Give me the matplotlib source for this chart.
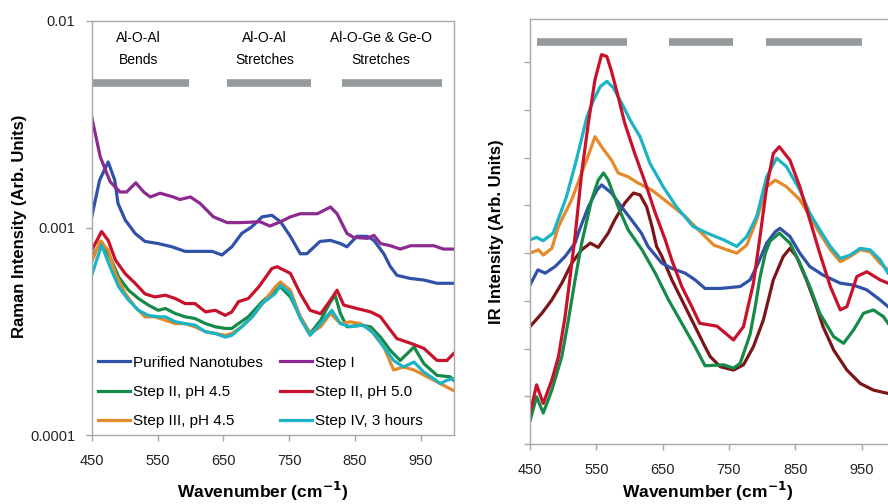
import matplotlib
matplotlib.use("Agg")
import matplotlib.pyplot as plt
import numpy as np

plt.rcParams['font.family'] = ['Liberation Sans', 'DejaVu Sans']

# ---- colours
C_BLUE = '#2f52a8'
C_PURPLE = '#8d2a8f'
C_GREEN = '#168a48'
C_RED = '#c8122c'
C_ORANGE = '#e5892b'
C_CYAN = '#1cb3c4'
C_MAROON = '#7c1518'
C_BAR = '#959a9c'
C_SPINE = '#a8a8a8'

# ---- Raman (left panel), wavenumber vs intensity
raman_purified_x = [450, 462, 475, 485, 490, 501, 516, 531, 551, 572, 592, 612, 633, 648, 663, 678,
                    693, 709, 724, 737, 752, 767, 777, 797, 813, 828, 838, 853, 869, 879, 894, 904,
                    914, 934, 955, 975, 1000]
raman_purified_y = [0.00113, 0.00170, 0.00208, 0.00170, 0.00131, 0.00109, 0.00094, 0.00086, 0.00084,
                    0.00081, 0.00077, 0.00077, 0.00077, 0.00074, 0.00081, 0.00094, 0.00101, 0.00113,
                    0.00115, 0.00107, 0.00091, 0.00075, 0.00075, 0.00086, 0.00087, 0.00084, 0.00081,
                    0.00091, 0.00091, 0.00087, 0.00075, 0.00065, 0.00059, 0.00057, 0.00056, 0.00054,
                    0.00054]

raman_step1_x = [450, 463, 478, 493, 503, 517, 529, 539, 554, 574, 584, 600, 615, 635, 656, 676,
                 706, 721, 737, 752, 767, 793, 813, 823, 838, 848, 869, 879, 889, 904, 919, 935,
                 970, 985, 1000]
raman_step1_y = [0.00343, 0.00220, 0.00167, 0.00149, 0.00149, 0.00165, 0.00149, 0.00141, 0.00147,
                 0.00141, 0.00137, 0.00141, 0.00131, 0.00113, 0.00106, 0.00106, 0.00107, 0.00102,
                 0.00107, 0.00113, 0.00117, 0.00117, 0.00126, 0.00117, 0.00094, 0.00090, 0.00089,
                 0.00092, 0.00084, 0.00082, 0.00079, 0.00082, 0.00082, 0.00079, 0.00079]

raman_s2_45_x = [450, 465, 480, 491, 506, 521, 536, 551, 562, 577, 592, 607, 623, 638, 653, 663,
                 673, 688, 709, 729, 737, 752, 767, 782, 798, 813, 820, 828, 838, 858, 874, 889,
                 904, 919, 940, 955, 975, 995, 1000]
raman_s2_45_y = [0.000724, 0.000855, 0.000698, 0.000579, 0.000500, 0.000456, 0.000424, 0.000400,
                 0.000408, 0.000386, 0.000372, 0.000365, 0.000345, 0.000333, 0.000327, 0.000327,
                 0.000345, 0.000372, 0.000440, 0.000500, 0.000519, 0.000464, 0.000372, 0.000309,
                 0.000358, 0.000440, 0.000473, 0.000386, 0.000333, 0.000339, 0.000333, 0.000297,
                 0.000256, 0.000229, 0.000266, 0.000221, 0.000194, 0.000191, 0.000184]

raman_s2_50_x = [450, 465, 475, 486, 501, 516, 531, 546, 562, 577, 592, 607, 623, 638, 653, 663,
                 673, 688, 704, 724, 732, 752, 767, 782, 798, 813, 823, 833, 853, 874, 889, 904,
                 914, 935, 955, 975, 990, 1000]
raman_s2_50_y = [0.00078, 0.00096, 0.00087, 0.00070, 0.00060, 0.00054, 0.00048, 0.000464,
                 0.000473, 0.000456, 0.000431, 0.000431, 0.000393, 0.000400, 0.000378, 0.000393,
                 0.000440, 0.000456, 0.000519, 0.000637, 0.000649, 0.000603, 0.000482, 0.000400,
                 0.000385, 0.000448, 0.000500, 0.000424, 0.000408, 0.000393, 0.000372, 0.000321,
                 0.000292, 0.000277, 0.000262, 0.000229, 0.000229, 0.000247]

raman_s3_x = [450, 463, 475, 486, 501, 516, 531, 546, 562, 577, 592, 607, 623, 638, 653, 663,
              678, 694, 714, 729, 737, 752, 767, 782, 798, 813, 828, 843, 858, 874, 894, 909,
              924, 940, 960, 980, 995, 1000]
raman_s3_y = [0.000685, 0.000865, 0.000780, 0.000602, 0.000482, 0.000415, 0.000372, 0.000372,
              0.000358, 0.000345, 0.000345, 0.000333, 0.000315, 0.000309, 0.000303, 0.000309,
              0.000333, 0.000372, 0.000448, 0.000519, 0.000548, 0.000500, 0.000372, 0.000309,
              0.000333, 0.000386, 0.000345, 0.000352, 0.000345, 0.000321, 0.000266, 0.000206,
              0.000213, 0.000206, 0.000191, 0.000177, 0.000167, 0.000164]

raman_s4_x = [450, 465, 480, 491, 506, 521, 536, 551, 562, 577, 592, 607, 623, 638, 653, 663,
              678, 694, 709, 729, 737, 752, 767, 782, 798, 815, 828, 843, 863, 879, 894, 909,
              924, 940, 955, 970, 980, 990, 1000]
raman_s4_y = [0.000591, 0.000824, 0.000625, 0.000519, 0.000448, 0.000400, 0.000378, 0.000372,
              0.000372, 0.000352, 0.000345, 0.000339, 0.000315, 0.000309, 0.000297, 0.000303,
              0.000333, 0.000372, 0.000431, 0.000482, 0.000529, 0.000482, 0.000365, 0.000303,
              0.000345, 0.000400, 0.000345, 0.000333, 0.000339, 0.000309, 0.000266, 0.000229,
              0.000213, 0.000225, 0.000201, 0.000187, 0.000177, 0.000184, 0.000187]

# ---- IR (right panel), arbitrary units
ir_purified_x = [450, 462, 473, 488, 503, 518, 525, 538, 551, 558, 573, 588, 603, 618, 628, 649,
                 664, 684, 699, 714, 737, 767, 782, 792, 807, 820, 827, 842, 857, 872, 892, 918,
                 938, 958, 978, 990]
ir_purified_y = [3.33, 3.65, 3.58, 3.72, 3.93, 4.21, 4.50, 4.97, 5.32, 5.43, 5.26, 4.97, 4.70, 4.42,
                 4.14, 3.79, 3.68, 3.58, 3.44, 3.26, 3.26, 3.30, 3.44, 3.72, 4.21, 4.45, 4.52, 4.35,
                 4.00, 3.72, 3.54, 3.37, 3.33, 3.23, 3.02, 2.88]

ir_s2_45_x = [450, 460, 470, 483, 498, 508, 518, 528, 543, 553, 561, 568, 583, 598, 619, 639, 659,
              679, 699, 714, 742, 757, 767, 782, 790, 797, 805, 812, 826, 842, 857, 872, 887, 908,
              923, 938, 953, 968, 983, 990]
ir_s2_45_y = [0.48, 0.99, 0.65, 1.13, 1.83, 2.60, 3.44, 4.21, 5.12, 5.53, 5.68, 5.53, 4.97, 4.49,
              4.07, 3.58, 3.02, 2.53, 2.04, 1.64, 1.66, 1.59, 1.69, 2.30, 2.90, 3.50, 4.00, 4.25,
              4.42, 4.21, 3.79, 3.30, 2.74, 2.25, 2.11, 2.39, 2.74, 2.81, 2.67, 2.53]

ir_s2_50_x = [450, 460, 470, 483, 493, 503, 510, 518, 528, 538, 548, 558, 566, 573, 583, 593, 608,
              624, 639, 654, 664, 679, 694, 706, 732, 757, 772, 787, 797, 807, 817, 826, 842, 857,
              872, 887, 903, 918, 928, 943, 958, 978, 990]
ir_s2_50_y = [0.64, 1.24, 0.85, 1.34, 1.83, 2.67, 3.44, 4.35, 5.68, 6.72, 7.63, 8.16, 8.12, 7.81,
              7.28, 6.72, 6.09, 5.47, 4.84, 4.28, 3.85, 3.30, 2.88, 2.53, 2.47, 2.18, 2.46, 3.37,
              4.35, 5.39, 6.09, 6.23, 5.95, 5.39, 4.70, 4.00, 3.30, 2.81, 2.88, 3.51, 3.61, 3.44,
              3.37]

ir_s3_x = [450, 463, 470, 483, 493, 513, 528, 541, 548, 558, 573, 583, 598, 613, 634, 659, 684,
           714, 727, 747, 762, 777, 792, 807, 820, 837, 857, 872, 887, 903, 918, 933, 948, 963,
           978, 990]
ir_s3_y = [4.00, 4.07, 3.96, 4.10, 4.56, 5.12, 5.68, 6.16, 6.44, 6.23, 5.95, 5.68, 5.60, 5.47, 5.32,
           5.05, 4.77, 4.35, 4.17, 4.07, 4.00, 4.17, 4.70, 5.39, 5.53, 5.39, 5.12, 4.77, 4.42, 4.07,
           3.82, 3.93, 4.07, 4.03, 3.79, 3.65]

ir_s4_x = [450, 460, 470, 485, 505, 520, 536, 546, 556, 566, 576, 591, 601, 616, 631, 651, 671,
           696, 717, 742, 762, 777, 792, 807, 822, 837, 857, 872, 887, 903, 918, 933, 948, 963,
           978, 990]
ir_s4_y = [4.28, 4.33, 4.26, 4.42, 5.18, 5.95, 6.86, 7.21, 7.49, 7.60, 7.46, 7.07, 6.79, 6.44, 5.88,
           5.39, 4.97, 4.56, 4.42, 4.28, 4.14, 4.35, 4.77, 5.60, 5.99, 5.81, 5.32, 4.84, 4.49, 4.14,
           3.89, 3.96, 4.10, 4.07, 3.86, 3.58]

ir_extra_x = [450, 468, 483, 498, 513, 528, 541, 553, 568, 578, 593, 606, 616, 626, 634, 641, 649,
              664, 684, 699, 714, 722, 737, 757, 772, 787, 802, 817, 832, 842, 852, 867, 882, 892,
              908, 928, 948, 968, 990]
ir_extra_y = [2.46, 2.74, 3.02, 3.37, 3.79, 4.07, 4.21, 4.12, 4.42, 4.70, 5.05, 5.26, 5.22, 4.97,
              4.56, 4.14, 3.93, 3.44, 2.88, 2.46, 2.04, 1.83, 1.62, 1.55, 1.66, 2.04, 2.60, 3.44,
              3.93, 4.10, 3.93, 3.44, 2.88, 2.46, 1.97, 1.55, 1.27, 1.13, 1.06]

legend_labels = ['Purified Nanotubes', 'Step I', 'Step II, pH 4.5', 'Step II, pH 5.0',
                 'Step III, pH 4.5', 'Step IV, 3 hours']

band_ranges_raman = [(451, 598), (655, 784), (830, 982)]
band_ranges_ir = [(460, 597), (660, 756), (806, 950)]
band_titles = [('Al-O-Al', 'Bends', 521), ('Al-O-Al', 'Stretches', 713),
               ('Al-O-Ge & Ge-O', 'Stretches', 890)]

LW = 2.3

fig = plt.figure(figsize=(8.88, 5.04), dpi=100)

# ---------------- left: Raman
ax1 = fig.add_axes([0.1033, 0.1369, 0.4074, 0.822])
h_pur, = ax1.plot(raman_purified_x, raman_purified_y, color=C_BLUE, lw=LW)
h_s1, = ax1.plot(raman_step1_x, raman_step1_y, color=C_PURPLE, lw=LW)
h_s245, = ax1.plot(raman_s2_45_x, raman_s2_45_y, color=C_GREEN, lw=LW)
h_s250, = ax1.plot(raman_s2_50_x, raman_s2_50_y, color=C_RED, lw=LW)
h_s3, = ax1.plot(raman_s3_x, raman_s3_y, color=C_ORANGE, lw=LW)
h_s4, = ax1.plot(raman_s4_x, raman_s4_y, color=C_CYAN, lw=LW)
ax1.set_yscale('log')
ax1.set_xlim(450, 1000)
ax1.set_ylim(1e-4, 1e-2)
ax1.set_yticks([1e-4, 1e-3, 1e-2])
ax1.set_yticklabels(['0.0001', '0.001', '0.01'])
ax1.minorticks_off()
ax1.set_xticks([450, 550, 650, 750, 850, 950])

for x0, x1 in band_ranges_raman:
    ax1.plot([x0, x1], [0.005, 0.005], color=C_BAR, lw=5.5, solid_capstyle='butt')
for top, bottom, xc in band_titles:
    ax1.text(xc, 0.00825, top, ha='center', va='center', fontsize=10)
    ax1.text(xc, 0.00645, bottom, ha='center', va='center', fontsize=10)

# legend fills column-wise, so order the handles to read row by row
handles = [h_pur, h_s245, h_s3, h_s1, h_s250, h_s4]
labels = [legend_labels[i] for i in (0, 2, 4, 1, 3, 5)]
leg = ax1.legend(handles, labels, ncol=2, loc='lower left', bbox_to_anchor=(0.017, 0.016),
                 frameon=False, fontsize=11, handlelength=2.1, handletextpad=0.2,
                 columnspacing=1.1, labelspacing=1.0, borderpad=0, borderaxespad=0)

# ---------------- right: IR
ax2 = fig.add_axes([0.5968, 0.119, 0.4107, 0.8427])
ax2.plot(ir_extra_x, ir_extra_y, color=C_MAROON, lw=LW)
ax2.plot(ir_s3_x, ir_s3_y, color=C_ORANGE, lw=LW)
ax2.plot(ir_s4_x, ir_s4_y, color=C_CYAN, lw=LW)
ax2.plot(ir_purified_x, ir_purified_y, color=C_BLUE, lw=LW)
ax2.plot(ir_s2_45_x, ir_s2_45_y, color=C_GREEN, lw=LW)
ax2.plot(ir_s2_50_x, ir_s2_50_y, color=C_RED, lw=LW)
ax2.set_xlim(450, 1000)
ax2.set_ylim(0, 8.9)
ax2.set_yticks(range(0, 9))
ax2.set_yticklabels([])
ax2.set_xticks([450, 550, 650, 750, 850, 950])
for x0, x1 in band_ranges_ir:
    ax2.plot([x0, x1], [8.43, 8.43], color=C_BAR, lw=5.5, solid_capstyle='butt')

for ax in (ax1, ax2):
    for s in ax.spines.values():
        s.set_color(C_SPINE)
        s.set_linewidth(1.0)
    ax.tick_params(direction='out', length=4, width=1, labelsize=10.5, colors='#222222')
    ax.tick_params(axis='x', pad=10)
    ax.tick_params(axis='y', pad=8)
    ax.tick_params(color=C_SPINE)

fig.text(19.5 / 888, 1 - 226.5 / 504, 'Raman Intensity (Arb. Units)', rotation=90,
         ha='center', va='center', fontsize=12, fontweight='bold')
fig.text(496.7 / 888, 1 - 232 / 504, 'IR Intensity (Arb. Units)', rotation=90,
         ha='center', va='center', fontsize=12, fontweight='bold')
fig.text(262.5 / 888, 1 - 491 / 504, 'Wavenumber (cm$^{\\mathbf{-1}}$)', ha='center',
         va='center', fontsize=12.5, fontweight='bold')
fig.text(707.5 / 888, 1 - 491 / 504, 'Wavenumber (cm$^{\\mathbf{-1}}$)', ha='center',
         va='center', fontsize=12.5, fontweight='bold')

fig.savefig('out.png', dpi=100)
